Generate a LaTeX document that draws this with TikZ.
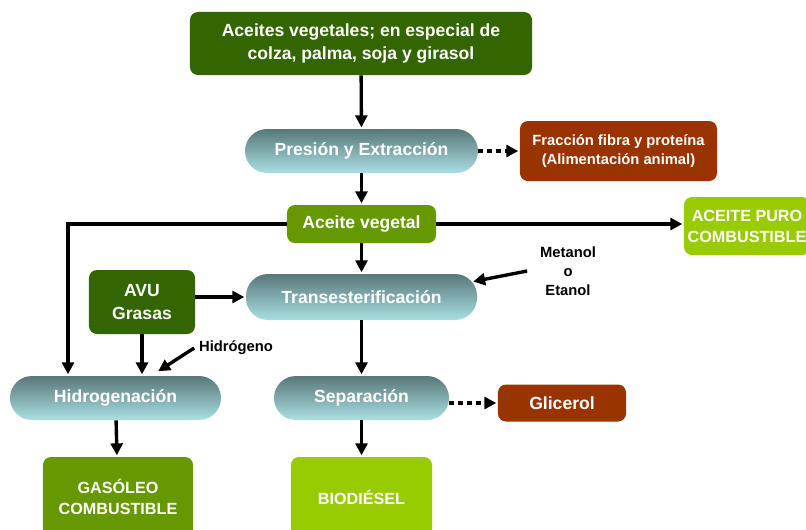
\documentclass[tikz,border=0pt]{standalone}
\usepackage{fontspec}
\setmainfont{Liberation Sans}
\usepackage{xcolor}
\usetikzlibrary{arrows.meta, positioning, calc}
\definecolor{verdeOscuro}{HTML}{336600}
\definecolor{verdeMedio}{HTML}{669900}
\definecolor{verdeClaro}{HTML}{99CC00}
\definecolor{marron}{HTML}{993300}
\definecolor{tealArriba}{HTML}{587879}
\definecolor{tealAbajo}{HTML}{AADFE3}

\begin{document}
\begin{tikzpicture}[x=0.025cm, y=-0.025cm, >={Triangle[length=8.5pt,width=8.5pt]},
  font=\bfseries\fontsize{12.5}{16}\selectfont,
  caja/.style={rounded corners=0.2cm, text=white, align=center, inner sep=0pt},
  proceso/.style={rounded corners=0.55cm, top color=tealArriba, bottom color=tealAbajo,
    text=white, inner sep=0pt, minimum height=1.1cm},
  nota/.style={align=center, font=\bfseries\fontsize{10.5}{13.5}\selectfont},
  mayus/.style={font=\bfseries\fontsize{11.5}{15}\selectfont},
  flecha/.style={->, line width=2.4pt, shorten >=1pt},
  punteada/.style={->, line width=3.4pt, dash pattern=on 3.4pt off 3pt, shorten >=1pt}]
\useasboundingbox (0,0) rectangle (806,529);
\clip (0,0) rectangle (806,529);
% Materia prima
\node[caja, fill=verdeOscuro, minimum width=8.55cm, minimum height=1.575cm] (aceites) at (361,43.5)
  {Aceites vegetales; en especial de\\colza, palma, soja y girasol};
% Procesos
\node[proceso, minimum width=5.825cm] (presion) at (361.5,151) {Presión y Extracción};
\node[proceso, minimum width=5.775cm, minimum height=1.15cm] (trans) at (361.5,297) {Transesterificación};
\node[proceso, minimum width=5.275cm] (hidrog) at (115.5,398) {Hidrogenación};
\node[proceso, minimum width=4.375cm] (separacion) at (361.5,398) {Separación};
% Productos
\node[caja, fill=marron, minimum width=4.925cm, minimum height=1.5cm,
  font=\bfseries\fontsize{10.5}{14}\selectfont] (fraccion) at (618.5,151)
  {Fracción fibra y proteína\\(Alimentación animal)};
\node[caja, fill=verdeMedio, minimum width=3.725cm, minimum height=0.95cm] (vegetal) at (361.5,224) {Aceite vegetal};
\node[caja, mayus, fill=verdeClaro, minimum width=3.15cm, minimum height=1.45cm] (puro) at (747,226) {ACEITE PURO\\COMBUSTIBLE};
\node[caja, fill=verdeOscuro, minimum width=2.65cm, minimum height=1.6cm] (avu) at (142,302) {AVU\\Grasas};
\node[caja, fill=marron, minimum width=3.2cm, minimum height=0.925cm] (glicerol) at (562,403) {Glicerol};
\node[caja, mayus, fill=verdeMedio, minimum width=3.75cm, minimum height=2cm] (gasoleo) at (118,497) {GASÓLEO\\COMBUSTIBLE};
\node[caja, mayus, fill=verdeClaro, minimum width=3.525cm, minimum height=2cm] (biodiesel) at (361.5,497) {BIODIÉSEL};
% Reactivos
\node[nota] (metanol) at (568,271) {Metanol\\o\\Etanol};
\node[nota] (hidrogeno) at (236,348) {Hidrógeno};
\coordinate (esquina) at (68,224);
\coordinate (entradaH) at (157,372);
% Flechas
\draw[flecha] (aceites) -- (presion);
\draw[punteada] (presion) -- (fraccion);
\draw[flecha] (presion) -- (vegetal);
\draw[flecha] (vegetal.east) -- (vegetal.east -| puro.west);
\draw[flecha] (vegetal) -- (trans);
\draw[flecha] (vegetal.west) -- (esquina) -- (esquina |- hidrog.north);
\draw[flecha, shorten >=-3pt] ([xshift=-0.2cm]metanol.west) -- (trans.8);
\draw[flecha] (avu.east |- trans.west) -- (trans.west);
\draw[flecha] (avu.south) -- (avu.south |- hidrog.north);
\draw[flecha] (hidrogeno.west) -- (entradaH);
\draw[flecha] (trans) -- (separacion);
\draw[punteada] (separacion.east |- glicerol.west) -- (glicerol.west);
\draw[flecha] (hidrog) -- (gasoleo);
\draw[flecha] (separacion) -- (biodiesel);
\end{tikzpicture}
\end{document}
